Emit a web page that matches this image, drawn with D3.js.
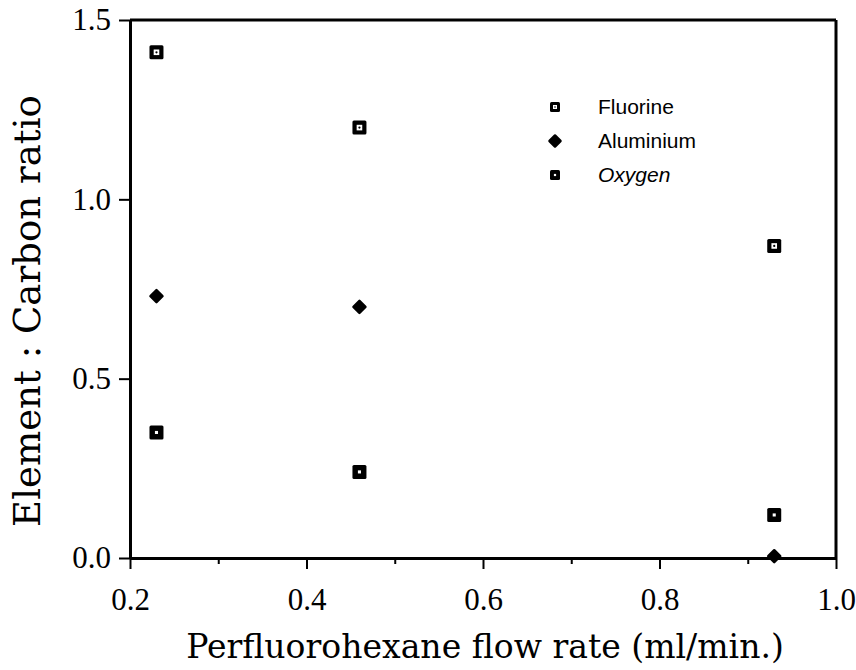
<!DOCTYPE html>
<html>
<head>
<meta charset="utf-8">
<script src="https://cdn.jsdelivr.net/npm/d3@7"></script>
<style>
  html, body { margin: 0; padding: 0; background: #fff; }
  svg { display: block; }
</style>
</head>
<body>
<svg id="chart" width="856" height="670"></svg>
<script>
// ---- data ----
const flowRates = [0.23, 0.46, 0.93];
const fluorine  = [1.41, 1.20, 0.87];
const aluminium = [0.73, 0.70, 0.005];
const oxygen    = [0.35, 0.24, 0.12];
const seriesNames = ["Fluorine", "Aluminium", "Oxygen"];
const xTickValues = [0.2, 0.4, 0.6, 0.8, 1.0];
const xMinorTicks = [0.3, 0.5, 0.7, 0.9];
const yTickValues = [0.0, 0.5, 1.0, 1.5];
const xTitle = "Perfluorohexane flow rate (ml/min.)";
const yTitle = "Element : Carbon ratio";

const svg = d3.select("#chart");
const L = 130, R = 836, T = 20, B = 558;
const x = d3.scaleLinear().domain([0.2, 1.0]).range([L, R]);
const y = d3.scaleLinear().domain([0, 1.5]).range([B, T]);

const serif = "'DejaVu Serif', 'Liberation Serif', serif";
const tickFont = "'Liberation Serif', 'DejaVu Serif', serif";
const sans = "'Liberation Sans', Arial, sans-serif";

// frame
const frame = svg.append("g").attr("stroke", "#000").attr("stroke-width", 3);
frame.append("line").attr("x1", L).attr("x2", R).attr("y1", T).attr("y2", T);
frame.append("line").attr("x1", R).attr("x2", R).attr("y1", T).attr("y2", B);

// x axis (major)
const xAxis = d3.axisBottom(x).tickValues(xTickValues).tickFormat(d3.format(".1f"))
  .tickSize(11).tickSizeOuter(0).tickPadding(19);
const gx = svg.append("g").attr("transform", `translate(0,${B})`).call(xAxis);
gx.select(".domain").attr("stroke-width", 3);
gx.selectAll(".tick line").attr("stroke-width", 2);
gx.selectAll("text").attr("font-family", tickFont).attr("font-size", 31).attr("fill", "#000");
// x axis minor
const xMinor = d3.axisBottom(x).tickValues(xMinorTicks).tickFormat("").tickSize(6).tickSizeOuter(0);
const gxm = svg.append("g").attr("transform", `translate(0,${B})`).call(xMinor);
gxm.select(".domain").remove();
gxm.selectAll(".tick line").attr("stroke-width", 2);

// y axis
const yAxis = d3.axisLeft(y).tickValues(yTickValues).tickFormat(d3.format(".1f"))
  .tickSize(11).tickSizeOuter(0).tickPadding(8);
const gy = svg.append("g").attr("transform", `translate(${L},0)`).call(yAxis);
gy.select(".domain").attr("stroke-width", 3);
gy.selectAll(".tick line").attr("stroke-width", 2);
gy.selectAll("text").attr("font-family", tickFont).attr("font-size", 31).attr("fill", "#000");

// titles (fit to measured widths)
function fit(sel, target, base) {
  const len = sel.node().getComputedTextLength();
  sel.attr("font-size", base * target / len);
}
const xt = svg.append("text").attr("x", 485).attr("y", 658).attr("text-anchor", "middle")
  .attr("font-family", serif).attr("font-size", 30).attr("fill", "#000").text(xTitle);
fit(xt, 598, 30);
const yt = svg.append("text").attr("transform", "translate(40,311) rotate(-90)")
  .attr("text-anchor", "middle").attr("font-family", serif).attr("font-size", 30)
  .attr("fill", "#000").text(yTitle);
fit(yt, 432, 30);

// marker drawers
function fluorineMark(g, s) {
  g.append("rect").attr("x", -s/2).attr("y", -s/2).attr("width", s).attr("height", s).attr("rx", 1.5).attr("fill", "#000");
  g.append("rect").attr("x", -s*0.2).attr("y", -s*0.2).attr("width", s*0.4).attr("height", s*0.4).attr("fill", "#fff");
  g.append("circle").attr("r", s*0.08).attr("fill", "#000");
}
function oxygenMark(g, s) {
  g.append("rect").attr("x", -s/2).attr("y", -s/2).attr("width", s).attr("height", s).attr("rx", 1.5).attr("fill", "#000");
  g.append("rect").attr("x", -s*0.11).attr("y", -s*0.11).attr("width", s*0.22).attr("height", s*0.22).attr("fill", "#fff");
}
function aluminiumMark(g, s) {
  const h = s/2;
  g.append("path").attr("d", `M0,${-h}L${h},0L0,${h}L${-h},0Z`).attr("fill", "#000")
    .attr("stroke", "#000").attr("stroke-width", 2.5).attr("stroke-linejoin", "round");
}
const drawers = [fluorineMark, aluminiumMark, oxygenMark];
const seriesValues = [fluorine, aluminium, oxygen];

// points
seriesValues.forEach((vals, si) => {
  const pts = svg.append("g").attr("class", "series-" + seriesNames[si]);
  flowRates.forEach((fr, i) => {
    const g = pts.append("g").attr("transform", `translate(${x(fr)},${y(vals[i])})`);
    drawers[si](g, si === 1 ? 12 : 14);
  });
});

// legend
const leg = svg.append("g").attr("transform", "translate(555,107)");
seriesNames.forEach((name, i) => {
  const g = leg.append("g").attr("transform", `translate(0,${i * 34})`);
  drawers[i](g.append("g"), i === 1 ? 11 : 10);
  g.append("text").attr("x", 43).attr("y", 0).attr("dy", "0.35em")
    .attr("font-family", sans).attr("font-size", 21).attr("fill", "#000")
    .attr("font-style", name === "Oxygen" ? "italic" : "normal").text(name);
});
</script>
</body>
</html>
